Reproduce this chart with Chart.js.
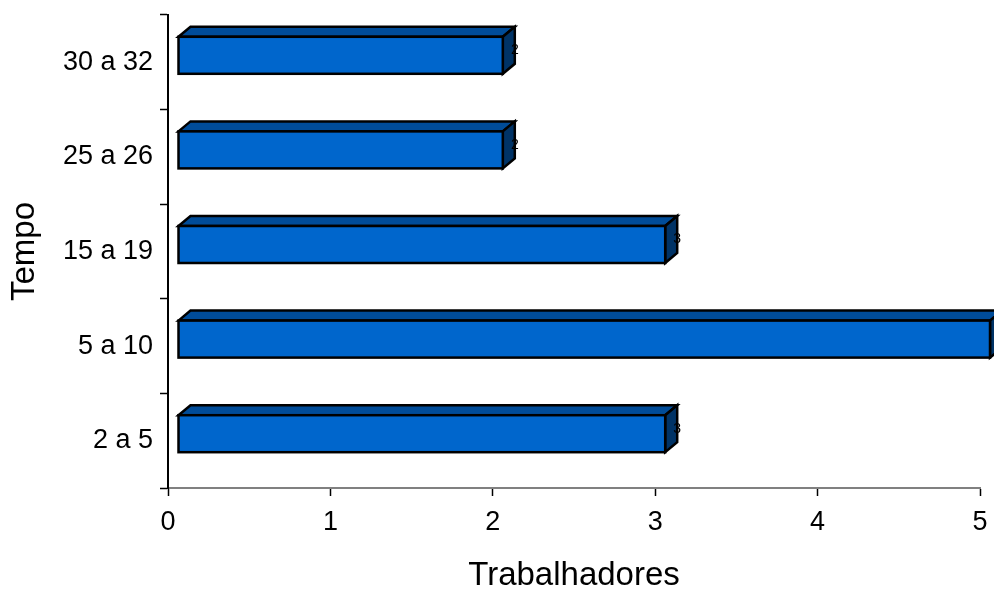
<!DOCTYPE html>
<html>
<head>
<meta charset="utf-8">
<script src="https://cdn.jsdelivr.net/npm/chart.js@4.4.0/dist/chart.umd.min.js"></script>
<style>
  html, body { margin: 0; padding: 0; background: #fff; }
  #wrap { width: 994px; height: 592px; }
</style>
</head>
<body>
<div id="wrap"><canvas id="chart" width="994" height="592"></canvas></div>
<script>
// Chart data (bottom to top)
const categories = ['2 a 5', '5 a 10', '15 a 19', '25 a 26', '30 a 32'];
const workers = [3, 5, 3, 2, 2];
const xTicks = [0, 1, 2, 3, 4, 5];

// 3D look of the bars
const FRONT = '#0066CC';
const TOP = '#004C99';
const SIDE = '#003366';
const SHIFT_X = 10;   // front face offset from axis
const SHIFT_Y = -7;
const DEPTH_X = 12;
const DEPTH_Y = -10;

const bars3d = {
    id: 'bars3d',
    afterDatasetsDraw(chart) {
        const ctx = chart.ctx;
        const meta = chart.getDatasetMeta(0);
        ctx.save();
        ctx.lineWidth = 2.5;
        ctx.lineJoin = 'miter';
        ctx.strokeStyle = '#000';
        meta.data.forEach((bar, i) => {
            const p = bar.getProps(['x', 'y', 'base', 'height'], true);
            const left = p.base + SHIFT_X;
            const right = p.x + SHIFT_X;
            const top = p.y - p.height / 2 + SHIFT_Y;
            const bottom = p.y + p.height / 2 + SHIFT_Y;

            // top face
            ctx.beginPath();
            ctx.moveTo(left, top);
            ctx.lineTo(left + DEPTH_X, top + DEPTH_Y);
            ctx.lineTo(right + DEPTH_X, top + DEPTH_Y);
            ctx.lineTo(right, top);
            ctx.closePath();
            ctx.fillStyle = TOP;
            ctx.fill();
            ctx.stroke();

            // side face
            ctx.beginPath();
            ctx.moveTo(right, top);
            ctx.lineTo(right + DEPTH_X, top + DEPTH_Y);
            ctx.lineTo(right + DEPTH_X, bottom + DEPTH_Y);
            ctx.lineTo(right, bottom);
            ctx.closePath();
            ctx.fillStyle = SIDE;
            ctx.fill();
            ctx.stroke();

            // front face
            ctx.fillStyle = FRONT;
            ctx.fillRect(left, top, right - left, bottom - top);
            ctx.strokeRect(left, top, right - left, bottom - top);

            // value label
            ctx.fillStyle = '#000';
            ctx.font = '14px "Liberation Sans", Arial, sans-serif';
            ctx.textAlign = 'center';
            ctx.textBaseline = 'middle';
            ctx.fillText(String(workers[i]), right + DEPTH_X, (top + bottom) / 2 + DEPTH_Y / 2);
        });
        ctx.restore();
    }
};

const fontFamily = '"Liberation Sans", Arial, sans-serif';

new Chart(document.getElementById('chart'), {
    type: 'bar',
    data: {
        labels: categories,
        datasets: [{
            data: workers,
            backgroundColor: 'rgba(0,0,0,0)',
            borderWidth: 0,
            barThickness: 37
        }]
    },
    options: {
        indexAxis: 'y',
        responsive: false,
        animation: false,
        layout: { padding: { top: 15, right: 14, left: 0, bottom: 0 } },
        plugins: {
            legend: { display: false },
            tooltip: { enabled: false }
        },
        scales: {
            x: {
                type: 'linear',
                min: 0,
                max: 5,
                afterBuildTicks: (scale) => {
                    scale.ticks = xTicks.map(v => ({ value: v }));
                },
                afterFit: (scale) => {
                    scale.height = 104;
                    scale.paddingLeft = 0;
                    scale.paddingRight = 0;
                },
                ticks: {
                    color: '#000',
                    font: { family: fontFamily, size: 27 },
                    padding: 10,
                    maxRotation: 0
                },
                grid: {
                    drawOnChartArea: false,
                    drawTicks: true,
                    tickLength: 8,
                    tickColor: '#000',
                    tickWidth: 1.5
                },
                border: { color: '#808080', width: 2 },
                title: {
                    display: true,
                    text: 'Trabalhadores',
                    color: '#000',
                    font: { family: fontFamily, size: 33, lineHeight: 1 },
                    padding: { top: 0, bottom: 0 }
                }
            },
            y: {
                type: 'category',
                reverse: true,
                afterFit: (scale) => {
                    scale.width = 168;
                    scale.paddingTop = 0;
                    scale.paddingBottom = 0;
                },
                ticks: {
                    color: '#000',
                    font: { family: fontFamily, size: 27 },
                    padding: 7
                },
                grid: {
                    offset: true,
                    drawOnChartArea: false,
                    drawTicks: true,
                    tickLength: 8,
                    tickColor: '#000',
                    tickWidth: 1.5
                },
                border: { color: '#000', width: 2 },
                title: {
                    display: true,
                    text: 'Tempo',
                    color: '#000',
                    font: { family: fontFamily, size: 33, lineHeight: 1 },
                    padding: { top: 8, bottom: 0 }
                }
            }
        }
    },
    plugins: [bars3d]
});
</script>
</body>
</html>
